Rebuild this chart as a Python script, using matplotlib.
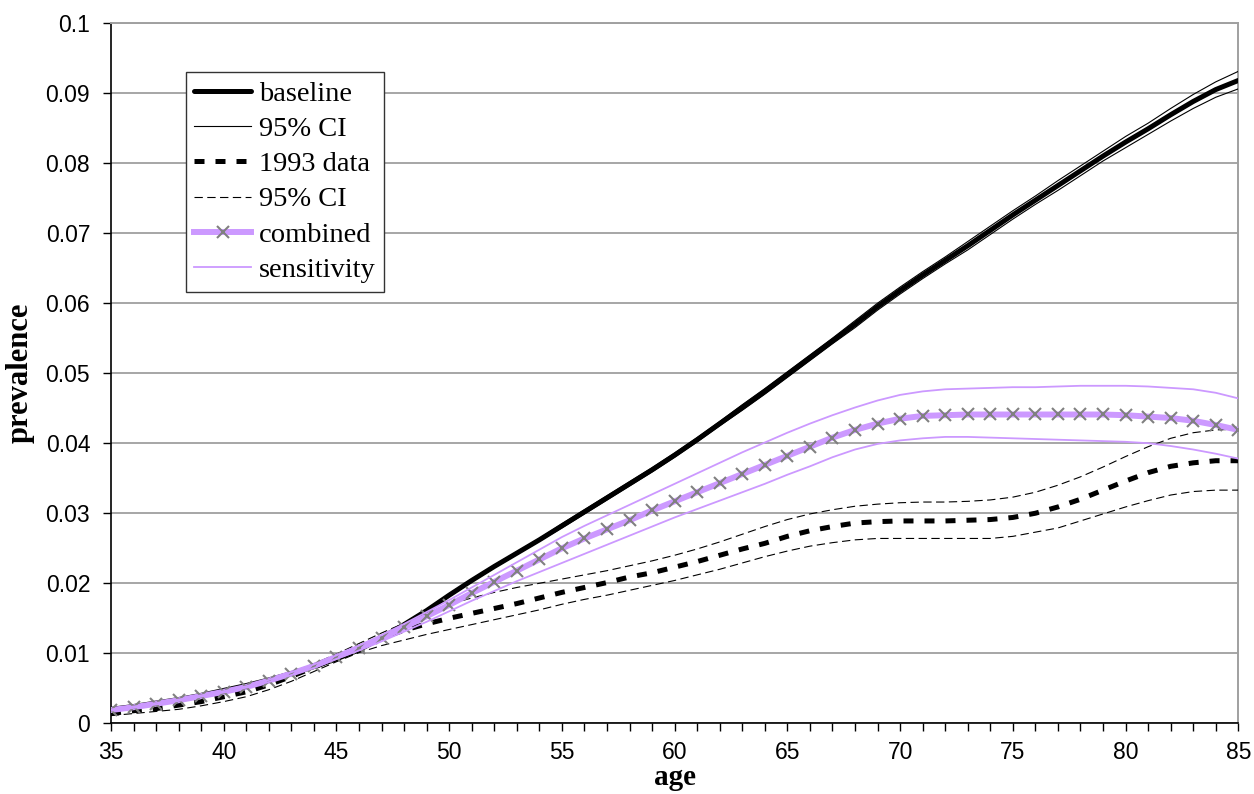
import numpy as np
import matplotlib
matplotlib.use('Agg')
import matplotlib.pyplot as plt
from matplotlib.ticker import MultipleLocator

age = list(range(35, 86))

baseline = [0.0020, 0.0024, 0.0029, 0.0034, 0.0040, 0.0047, 0.0054, 0.0062, 0.0071, 0.0081,
            0.0092, 0.0105, 0.0122, 0.0141, 0.0161, 0.0183, 0.0204, 0.0224, 0.0243, 0.0262,
            0.0282, 0.0302, 0.0322, 0.0342, 0.0362, 0.0383, 0.0405, 0.0428, 0.0451, 0.0474,
            0.0498, 0.0522, 0.0546, 0.0570, 0.0595, 0.0618, 0.0640, 0.0661, 0.0682, 0.0704,
            0.0726, 0.0747, 0.0768, 0.0789, 0.0810, 0.0830, 0.0849, 0.0869, 0.0888, 0.0905,
            0.0918]
base_hi = [0.0021, 0.0025, 0.0030, 0.0035, 0.0041, 0.0048, 0.0055, 0.0063, 0.0072, 0.0082,
           0.0094, 0.0107, 0.0124, 0.0143, 0.0163, 0.0185, 0.0206, 0.0226, 0.0245, 0.0264,
           0.0285, 0.0305, 0.0325, 0.0345, 0.0365, 0.0386, 0.0408, 0.0431, 0.0455, 0.0478,
           0.0502, 0.0526, 0.0550, 0.0575, 0.0600, 0.0623, 0.0645, 0.0666, 0.0688, 0.0710,
           0.0732, 0.0753, 0.0775, 0.0796, 0.0817, 0.0838, 0.0857, 0.0878, 0.0898, 0.0916,
           0.0931]
base_lo = [0.0019, 0.0023, 0.0028, 0.0033, 0.0039, 0.0046, 0.0053, 0.0061, 0.0070, 0.0080,
           0.0090, 0.0103, 0.0120, 0.0139, 0.0159, 0.0181, 0.0202, 0.0222, 0.0241, 0.0260,
           0.0279, 0.0299, 0.0319, 0.0339, 0.0359, 0.0380, 0.0402, 0.0425, 0.0447, 0.0470,
           0.0494, 0.0518, 0.0542, 0.0565, 0.0590, 0.0613, 0.0635, 0.0656, 0.0676, 0.0698,
           0.0720, 0.0741, 0.0761, 0.0782, 0.0803, 0.0822, 0.0841, 0.0860, 0.0878, 0.0894,
           0.0906]

data93 = [0.0014, 0.0018, 0.0021, 0.0026, 0.0031, 0.0038, 0.0045, 0.0055, 0.0067, 0.0080,
          0.0094, 0.0108, 0.0122, 0.0133, 0.0142, 0.0150, 0.0157, 0.0164, 0.0171, 0.0179,
          0.0187, 0.0194, 0.0201, 0.0209, 0.0215, 0.0223, 0.0231, 0.0240, 0.0249, 0.0257,
          0.0267, 0.0275, 0.0281, 0.0286, 0.0288, 0.0289, 0.0289, 0.0289, 0.0290, 0.0291,
          0.0294, 0.0300, 0.0309, 0.0320, 0.0333, 0.0346, 0.0358, 0.0367, 0.0372, 0.0375,
          0.0375]
data93_hi = [0.0018, 0.0022, 0.0026, 0.0031, 0.0037, 0.0044, 0.0052, 0.0062, 0.0073, 0.0085,
             0.0099, 0.0114, 0.0129, 0.0143, 0.0157, 0.0170, 0.0179, 0.0187, 0.0194, 0.0200,
             0.0206, 0.0212, 0.0218, 0.0225, 0.0232, 0.0240, 0.0249, 0.0259, 0.0270, 0.0281,
             0.0291, 0.0299, 0.0305, 0.0310, 0.0313, 0.0315, 0.0316, 0.0316, 0.0317, 0.0319,
             0.0323, 0.0330, 0.0340, 0.0352, 0.0366, 0.0381, 0.0395, 0.0407, 0.0415, 0.0419,
             0.0420]
data93_lo = [0.0011, 0.0014, 0.0017, 0.0020, 0.0025, 0.0031, 0.0038, 0.0048, 0.0060, 0.0074,
             0.0088, 0.0101, 0.0111, 0.0119, 0.0127, 0.0134, 0.0141, 0.0148, 0.0155, 0.0162,
             0.0170, 0.0177, 0.0183, 0.0190, 0.0197, 0.0204, 0.0212, 0.0220, 0.0229, 0.0238,
             0.0246, 0.0253, 0.0258, 0.0262, 0.0264, 0.0264, 0.0264, 0.0264, 0.0264, 0.0264,
             0.0267, 0.0273, 0.0279, 0.0289, 0.0299, 0.0309, 0.0318, 0.0326, 0.0331, 0.0333,
             0.0333]

combined = [0.0019, 0.0023, 0.0028, 0.0033, 0.0039, 0.0045, 0.0052, 0.0061, 0.0071, 0.0082,
            0.0095, 0.0108, 0.0122, 0.0137, 0.0153, 0.0169, 0.0186, 0.0202, 0.0218, 0.0234,
            0.0250, 0.0264, 0.0277, 0.0290, 0.0304, 0.0317, 0.0330, 0.0343, 0.0356, 0.0369,
            0.0382, 0.0395, 0.0408, 0.0419, 0.0428, 0.0435, 0.0439, 0.0440, 0.0441, 0.0441,
            0.0441, 0.0441, 0.0441, 0.0441, 0.0441, 0.0440, 0.0438, 0.0436, 0.0432, 0.0426,
            0.0419]
sens_hi = [0.0020, 0.0024, 0.0029, 0.0034, 0.0040, 0.0046, 0.0053, 0.0062, 0.0073, 0.0084,
           0.0097, 0.0111, 0.0126, 0.0142, 0.0159, 0.0176, 0.0194, 0.0212, 0.0230, 0.0248,
           0.0266, 0.0282, 0.0297, 0.0312, 0.0327, 0.0342, 0.0357, 0.0372, 0.0387, 0.0401,
           0.0415, 0.0428, 0.0440, 0.0451, 0.0461, 0.0469, 0.0474, 0.0477, 0.0478, 0.0479,
           0.0480, 0.0480, 0.0481, 0.0482, 0.0482, 0.0482, 0.0481, 0.0479, 0.0477, 0.0472,
           0.0464]
sens_lo = [0.0018, 0.0022, 0.0027, 0.0032, 0.0038, 0.0044, 0.0051, 0.0059, 0.0069, 0.0079,
           0.0092, 0.0104, 0.0117, 0.0131, 0.0145, 0.0160, 0.0175, 0.0189, 0.0203, 0.0216,
           0.0229, 0.0242, 0.0255, 0.0268, 0.0281, 0.0294, 0.0306, 0.0318, 0.0330, 0.0342,
           0.0355, 0.0367, 0.0380, 0.0391, 0.0399, 0.0404, 0.0407, 0.0409, 0.0409, 0.0408,
           0.0407, 0.0406, 0.0405, 0.0404, 0.0403, 0.0402, 0.0400, 0.0396, 0.0391, 0.0385,
           0.0378]

purple = '#cc99ff'
serif = 'Liberation Serif'
sans = 'Liberation Sans'

fig = plt.figure(figsize=(12.54, 7.94), dpi=100)
ax = fig.add_axes([0.0885, 0.089, 0.899, 0.882])

ax.plot(age, baseline, color='black', lw=3.6, solid_capstyle='round', label='baseline', zorder=3)
ax.plot(age, base_hi, color='black', lw=0.8, label='95% CI', zorder=3)
ax.plot(age, base_lo, color='black', lw=0.8, zorder=3)
ax.plot(age, data93, color='black', lw=3.6, dashes=(2.0, 2.2), label='1993 data', zorder=3)
ax.plot(age, data93_hi, color='black', lw=0.8, dashes=(7.5, 4), label='95% CI', zorder=3)
ax.plot(age, data93_lo, color='black', lw=0.8, dashes=(7.5, 4), zorder=3)
ax.plot(age, combined, color=purple, lw=4.3, marker='x', ms=9, mew=1.5, mec='#808080',
        label='combined', zorder=4)
ax.plot(age, sens_hi, color=purple, lw=1.3, label='sensitivity', zorder=4)
ax.plot(age, sens_lo, color=purple, lw=1.3, zorder=4)

ax.set_xlim(35, 85)
ax.set_ylim(0, 0.1)
ax.xaxis.set_major_locator(MultipleLocator(5))
ax.xaxis.set_minor_locator(MultipleLocator(1))
ax.set_yticks([i / 100 for i in range(11)])
ax.set_yticklabels(['0'] + ['%.2f' % (i / 100) for i in range(1, 10)] + ['0.1'])

ax.grid(axis='y', color='#a6a6a6', lw=1.4, zorder=0)
ax.set_axisbelow(True)
for s in ['top', 'right']:
    ax.spines[s].set_color('#a0a0a0')
    ax.spines[s].set_linewidth(1.4)
for s in ['left', 'bottom']:
    ax.spines[s].set_color('black')
    ax.spines[s].set_linewidth(1.2)
ax.spines['bottom'].set_zorder(5)

ax.tick_params(axis='both', which='both', direction='out', length=6, width=1, color='black')
ax.tick_params(axis='y', labelsize=16.5, pad=9)
ax.tick_params(axis='x', labelsize=16.5, pad=7)
for lab in ax.get_xticklabels() + ax.get_yticklabels():
    lab.set_family(sans)

ax.set_xlabel('age', family=serif, fontweight='bold', fontsize=21, labelpad=0)
ax.set_ylabel('prevalence', family=serif, fontweight='bold', fontsize=22, labelpad=8)

leg = ax.legend(loc='upper left', bbox_to_anchor=(0.0665, 0.930), borderaxespad=0,
                prop={'family': serif, 'size': 20.5}, frameon=True, fancybox=False,
                edgecolor='#333333', framealpha=1, handlelength=2.0, handletextpad=0.25,
                labelspacing=0.33, borderpad=0.3)
leg.get_frame().set_linewidth(1.0)

fig.savefig('out.png', dpi=100)
